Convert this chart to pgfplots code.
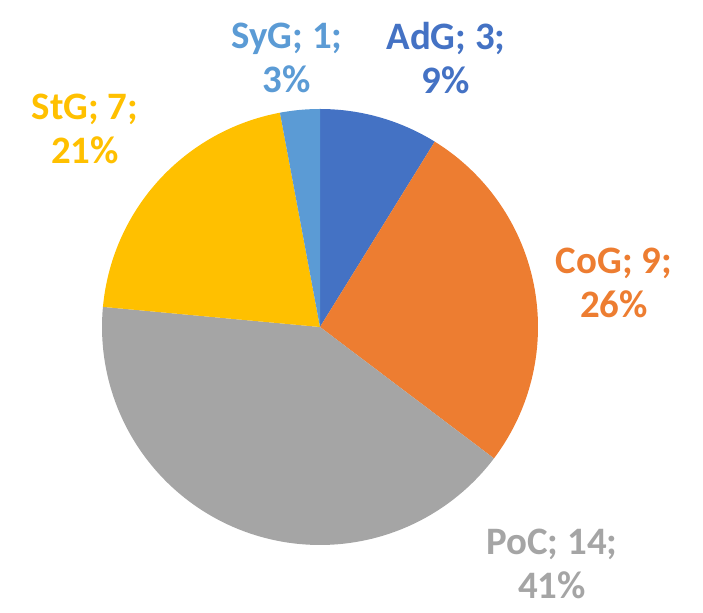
\documentclass[border=0pt]{standalone}
\usepackage{pgfplots}
\pgfplotsset{compat=1.18}
\usepackage{fontspec}
\setmainfont{Carlito}
\definecolor{cAdG}{HTML}{4472C4}
\definecolor{cCoG}{HTML}{ED7D31}
\definecolor{cPoC}{HTML}{A5A5A5}
\definecolor{cStG}{HTML}{FFC000}
\definecolor{cSyG}{HTML}{5B9BD5}
% data values
\def\vAdG{3}\def\vCoG{9}\def\vPoC{14}\def\vStG{7}\def\vSyG{1}
\pgfmathsetmacro{\tot}{\vAdG+\vCoG+\vPoC+\vStG+\vSyG}
\pgfmathsetmacro{\aA}{90}
\pgfmathsetmacro{\aB}{\aA-360*\vAdG/\tot}
\pgfmathsetmacro{\aC}{\aB-360*\vCoG/\tot}
\pgfmathsetmacro{\aD}{\aC-360*\vPoC/\tot}
\pgfmathsetmacro{\aE}{\aD-360*\vStG/\tot}
\pgfmathsetmacro{\aF}{\aE-360*\vSyG/\tot}
\def\cx{320}\def\cy{286}\def\R{218}
\begin{document}
\begin{tikzpicture}
\begin{axis}[x=1bp,y=1bp,xmin=0,xmax=703,ymin=0,ymax=613,hide axis,clip=false,
  axis line style={draw=none}]
\path (axis cs:0,0) rectangle (axis cs:703,613);
\addplot[fill=cAdG,draw=none,domain=\aB:\aA,samples=40,variable=\t] ({\cx+\R*cos(t)},{\cy+\R*sin(t)}) -- (axis cs:\cx,\cy) -- cycle;
\addplot[fill=cCoG,draw=none,domain=\aC:\aB,samples=80,variable=\t] ({\cx+\R*cos(t)},{\cy+\R*sin(t)}) -- (axis cs:\cx,\cy) -- cycle;
\addplot[fill=cPoC,draw=none,domain=\aD:\aC,samples=100,variable=\t] ({\cx+\R*cos(t)},{\cy+\R*sin(t)}) -- (axis cs:\cx,\cy) -- cycle;
\addplot[fill=cStG,draw=none,domain=\aE:\aD,samples=60,variable=\t] ({\cx+\R*cos(t)},{\cy+\R*sin(t)}) -- (axis cs:\cx,\cy) -- cycle;
\addplot[fill=cSyG,draw=none,domain=\aF:\aE,samples=20,variable=\t] ({\cx+\R*cos(t)},{\cy+\R*sin(t)}) -- (axis cs:\cx,\cy) -- cycle;
\tikzset{lab/.style={font=\fontsize{39}{44}\selectfont\bfseries,align=center,inner sep=0pt}}
\node[lab,text=cSyG] at (axis cs:287,555) {SyG; 1;\\3\%};
\node[lab,text=cAdG] at (axis cs:446,555) {AdG; 3;\\9\%};
\node[lab,text=cStG] at (axis cs:85,484) {StG; 7;\\21\%};
\node[lab,text=cCoG] at (axis cs:614,330) {CoG; 9;\\26\%};
\node[lab,text=cPoC] at (axis cs:552,49) {PoC; 14;\\41\%};
\end{axis}
\end{tikzpicture}
\end{document}
